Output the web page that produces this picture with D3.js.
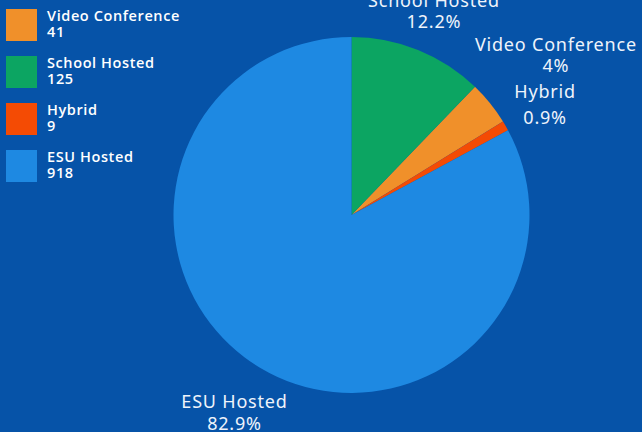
<!DOCTYPE html>
<html>
<head>
<meta charset="utf-8">
<script src="https://cdn.jsdelivr.net/npm/d3@7"></script>
<style>
  html, body { margin: 0; padding: 0; background: #0653a8; }
  svg { display: block; }
</style>
</head>
<body>
<svg id="chart" width="642" height="432"></svg>
<script>
// ---- data ----
const categories = ["Video Conference", "School Hosted", "Hybrid", "ESU Hosted"];
const counts = [41, 125, 9, 918];
const percents = [4, 12.2, 0.9, 82.9];
const pieOrder = ["School Hosted", "Video Conference", "Hybrid", "ESU Hosted"];

// ---- styles / layout ----
const colors = {
  "Video Conference": "#f0902a",
  "School Hosted": "#0ca562",
  "Hybrid": "#f44b04",
  "ESU Hosted": "#1e89e2"
};
const labelNudge = {
  "School Hosted": { dx: 2, dy: -4, gap: 21 },
  "Video Conference": { dx: 37, dy: -24, gap: 21 },
  "Hybrid": { dx: 7.5, dy: -4, gap: 26 },
  "ESU Hosted": { dx: -7, dy: 13, gap: 22 }
};

const W = 642, H = 432;
const cx = 351.5, cy = 215, r = 178, labelR = 215;

const svg = d3.select("#chart");
svg.append("rect").attr("width", W).attr("height", H).attr("fill", "#0653a8");

const data = categories.map((c, i) => ({ name: c, count: counts[i], pct: percents[i] }));

const pie = d3.pie()
  .value(d => d.pct)
  .sort((a, b) => pieOrder.indexOf(a.name) - pieOrder.indexOf(b.name));
const arcs = pie(data);

const arc = d3.arc().innerRadius(0).outerRadius(r);
const labelArc = d3.arc().innerRadius(labelR).outerRadius(labelR);

const g = svg.append("g").attr("transform", `translate(${cx},${cy})`);
g.selectAll("path.slice")
  .data(arcs)
  .join("path")
  .attr("class", "slice")
  .attr("d", arc)
  .attr("fill", d => colors[d.data.name]);

const fmt = v => `${v}%`;
const lbl = g.selectAll("g.lbl")
  .data(arcs)
  .join("g")
  .attr("class", "lbl")
  .attr("transform", d => {
    const [x, y] = labelArc.centroid(d);
    const n = labelNudge[d.data.name];
    return `translate(${x + n.dx},${y + n.dy})`;
  });
lbl.append("text")
  .attr("text-anchor", "middle")
  .attr("y", -5)
  .attr("font-family", "'Noto Sans', sans-serif")
  .attr("font-size", 18)
  .attr("letter-spacing", 0.8)
  .attr("fill", "#eef3fb")
  .text(d => d.data.name);
lbl.append("text")
  .attr("text-anchor", "middle")
  .attr("y", d => -5 + labelNudge[d.data.name].gap)
  .attr("font-family", "'Noto Sans', sans-serif")
  .attr("font-size", 18)
  .attr("letter-spacing", 0.8)
  .attr("fill", "#eef3fb")
  .text(d => fmt(d.data.pct));

// ---- legend ----
const legY = d3.scaleBand().domain(categories).range([9, 9 + 47 * categories.length]).paddingInner(0);
const leg = svg.append("g").selectAll("g")
  .data(data)
  .join("g")
  .attr("transform", d => `translate(6,${legY(d.name)})`);
leg.append("rect")
  .attr("width", 31).attr("height", 32)
  .attr("fill", d => colors[d.name]);
leg.append("text")
  .attr("x", 41).attr("y", 11.7)
  .attr("font-family", "'Open Sans', sans-serif")
  .attr("font-weight", 600)
  .attr("font-size", 14.5)
  .attr("letter-spacing", 0.6)
  .attr("fill", "#ffffff")
  .text(d => d.name);
leg.append("text")
  .attr("x", 41).attr("y", 28.4)
  .attr("font-family", "'Open Sans', sans-serif")
  .attr("font-weight", 600)
  .attr("font-size", 14.5)
  .attr("letter-spacing", 0.6)
  .attr("fill", "#ffffff")
  .text(d => d.count);
</script>
</body>
</html>
